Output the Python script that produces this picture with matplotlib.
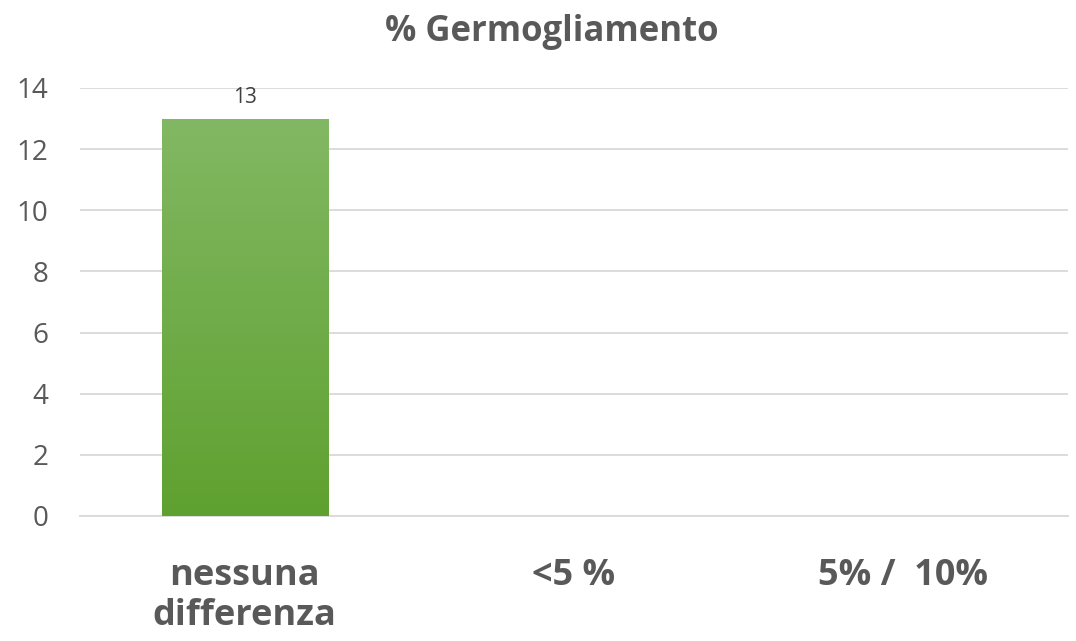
import matplotlib
matplotlib.use("Agg")
import matplotlib.pyplot as plt
import matplotlib.patheffects as pe
import numpy as np
from matplotlib.colors import LinearSegmentedColormap

categories = ["nessuna\ndifferenza", "<5 %", "5% /  10%"]
values = [13, 0, 0]
yticks = [0, 2, 4, 6, 8, 10, 12, 14]
title = "% Germogliamento"

plt.rcParams['font.family'] = ['Open Sans', 'DejaVu Sans']

fig = plt.figure(figsize=(10.76, 6.41), dpi=100)
ax = fig.add_axes([80/1076, 125/641, 988/1076, 428/641])

x = np.arange(len(categories))
bars = ax.bar(x, values, width=0.505, color="#70ad47", zorder=3,
              path_effects=[pe.SimplePatchShadow(offset=(0, -2), alpha=0.35, shadow_rgbFace="#777777"), pe.Normal()])

cmap = LinearSegmentedColormap.from_list("g", ["#5fa130", "#82b863"])
for b, v in zip(bars, values):
    if v <= 0:
        continue
    x0, x1 = b.get_x(), b.get_x() + b.get_width()
    grad = np.linspace(0, 1, 256).reshape(-1, 1)
    im = ax.imshow(grad, extent=[x0, x1, 0, v], origin="lower", aspect="auto",
                   cmap=cmap, zorder=4)
    im.set_clip_path(b)
    ax.text(b.get_x() + b.get_width() / 2, v + 0.33, f"{v:g}", ha="center", va="bottom",
            fontsize=15, color="#404040", zorder=5)

ax.set_xlim(-0.5, len(categories) - 0.5)
ax.set_ylim(0, 14)
ax.set_yticks(yticks)
ax.set_yticklabels([str(t) for t in yticks], fontsize=20, color="#595959")
ax.yaxis.grid(True, color="#d9d9d9", linewidth=1.3, zorder=0)
ax.set_axisbelow(True)
for s in ["top", "right", "left"]:
    ax.spines[s].set_visible(False)
ax.spines["bottom"].set_color("#d9d9d9")
ax.spines["bottom"].set_linewidth(1.3)
ax.tick_params(axis="y", length=0, pad=23)
ax.tick_params(axis="x", length=0, pad=30)
ax.set_xticks(x)
ax.set_xticklabels(categories, fontsize=26, fontweight="bold", color="#595959",
                   va="top", linespacing=1.15)

fig.text(552/1076, 1 - 32/641, title, ha="center", va="center", fontsize=25,
         fontweight="bold", color="#595959")

fig.savefig("out.png", dpi=100, facecolor="white")
